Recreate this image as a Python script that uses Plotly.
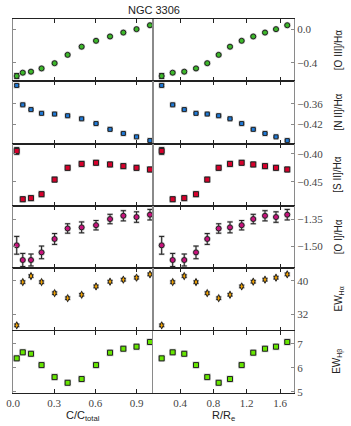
import plotly.graph_objects as go
from plotly.subplots import make_subplots

# ── Data ─────────────────────────────────────────────────────────────────────
c_frac = [0.027, 0.071, 0.131, 0.208, 0.303, 0.398, 0.50, 0.605, 0.707, 0.804, 0.90, 0.998]
r_re = [0.18, 0.312, 0.451, 0.592, 0.727, 0.864, 1.0, 1.14, 1.279, 1.42, 1.552, 1.687]

oiii = [-0.558, -0.518, -0.506, -0.467, -0.404, -0.304, -0.206, -0.135, -0.083, -0.036, 0.005, 0.052]
oiii_err = [0.03, 0.012, 0.012, 0.01, 0.01, 0.01, 0.01, 0.008, 0.008, 0.008, 0.008, 0.008]

nii = [-0.306, -0.363, -0.377, -0.388, -0.390, -0.395, -0.404, -0.418, -0.435, -0.447, -0.457, -0.468]
nii_err = [0.003, 0.002, 0.002, 0.002, 0.002, 0.002, 0.002, 0.002, 0.002, 0.002, 0.002, 0.002]

sii = [-0.395, -0.481, -0.479, -0.472, -0.446, -0.425, -0.418, -0.416, -0.419, -0.422, -0.425, -0.428]
sii_err = [0.006, 0.004, 0.004, 0.004, 0.004, 0.004, 0.004, 0.004, 0.004, 0.004, 0.004, 0.004]

oi = [-1.493, -1.574, -1.574, -1.532, -1.458, -1.400, -1.394, -1.382, -1.348, -1.330, -1.337, -1.324]
oi_err = [0.049, 0.036, 0.033, 0.035, 0.03, 0.026, 0.03, 0.026, 0.026, 0.028, 0.029, 0.029]

ew_ha = [29.46, 39.67, 41.09, 39.67, 37.06, 35.87, 36.68, 38.65, 39.76, 40.24, 40.71, 41.5]
ew_ha_err = [0.3] * 12

ew_hb = [6.39, 6.64, 6.58, 6.11, 5.61, 5.375, 5.53, 6.11, 6.625, 6.79, 6.875, 7.07]
ew_hb_err = [0.06] * 12

ROWS = [
    dict(y=oiii, err=oiii_err, color="#3cb82a", symbol="circle", size=5,
         rng=[-0.622, 0.127], ticks=[0.0, -0.4], fmt=".1f", label="[O III]/Hα"),
    dict(y=nii, err=nii_err, color="#1f7ad8", symbol="square", size=4,
         rng=[-0.477, -0.294], ticks=[-0.36, -0.42], fmt=".2f", label="[N II]/Hα"),
    dict(y=sii, err=sii_err, color="#d8002c", symbol="square", size=5,
         rng=[-0.493, -0.382], ticks=[-0.40, -0.45], fmt=".2f", label="[S II]/Hα"),
    dict(y=oi, err=oi_err, color="#c8127c", symbol="circle", size=5,
         rng=[-1.62, -1.276], ticks=[-1.35, -1.50], fmt=".2f", label="[O I]/Hα"),
    dict(y=ew_ha, err=ew_ha_err, color="#f0a000", symbol="diamond-tall", size=5,
         rng=[28.2, 42.92], ticks=[40, 32], fmt="d", label="EW<sub>Hα</sub>"),
    dict(y=ew_hb, err=ew_hb_err, color="#66e600", symbol="square", size=5,
         rng=[4.95, 7.54], ticks=[7, 6, 5], fmt="d", label="EW<sub>Hβ</sub>"),
]

W, H = 351, 426
ML, MR, MT, MB = 13, 57, 19, 33
PW, PH = W - ML - MR, H - MT - MB
XM = 140 / PW          # split between the two columns, in plot fraction
ROW_H = 1 / 6


def px(x):
    return (x - ML) / PW


def py(y):
    return 1 - (y - MT) / PH


TICK_FONT = dict(family="Liberation Serif", size=11, color="#444")
LABEL_FONT = dict(family="Liberation Sans", size=10, color="#222")
GRAY = "#8a8a8a"

fig = make_subplots(rows=6, cols=2, horizontal_spacing=0, vertical_spacing=0)

for i, row in enumerate(ROWS):
    r = i + 1
    for c, xs in ((1, c_frac), (2, r_re)):
        # light halo behind the error bars
        fig.add_trace(go.Scatter(
            x=xs, y=row["y"], mode="markers",
            marker=dict(symbol=row["symbol"], size=row["size"] + 2, color="#c8c8c8"),
            error_y=dict(type="data", array=row["err"], color="#c4c4c4",
                         thickness=2.2, width=3),
            showlegend=False, hoverinfo="skip",
        ), row=r, col=c)
        fig.add_trace(go.Scatter(
            x=xs, y=row["y"], mode="markers",
            marker=dict(symbol=row["symbol"], size=row["size"], color=row["color"],
                        line=dict(color="#222", width=1)),
            error_y=dict(type="data", array=row["err"], color="#222",
                         thickness=1, width=2.5),
            showlegend=False,
        ), row=r, col=c)

    y1 = 1 - i * ROW_H
    y0 = y1 - ROW_H
    for c in (1, 2):
        fig.update_yaxes(
            row=r, col=c, domain=[y0, y1], range=row["rng"],
            tickvals=row["ticks"], tickformat=row["fmt"],
            ticks="inside", ticklen=3, tickcolor=GRAY,
            showline=True, linecolor=GRAY, linewidth=1.2, mirror=True,
            showgrid=False, zeroline=False, tickfont=TICK_FONT,
            showticklabels=(c == 2), side="right" if c == 2 else "left",
            automargin=False,
        )
    fig.add_annotation(
        x=px(338), y=(y0 + y1) / 2, xref="paper", yref="paper",
        xanchor="center", yanchor="middle",
        text=row["label"], textangle=-90, showarrow=False, font=LABEL_FONT,
    )

for r in range(1, 7):
    fig.update_xaxes(
        row=r, col=1, domain=[0, XM], range=[0, 1.02],
        tickvals=[0.0, 0.3, 0.6, 0.9], tickformat=".1f",
    )
    fig.update_xaxes(
        row=r, col=2, domain=[XM, 1], range=[0.076, 1.768],
        tickvals=[0.4, 0.8, 1.2, 1.6], tickformat=".1f",
    )
    for c in (1, 2):
        fig.update_xaxes(
            row=r, col=c, ticks="inside", ticklen=4, tickcolor="#222",
            showline=True, linecolor="#222", linewidth=1, mirror="allticks",
            showgrid=False, zeroline=False, tickfont=TICK_FONT,
            showticklabels=(r == 6), automargin=False,
        )

AX_FONT = dict(family="Liberation Sans", size=11, color="#222")
fig.add_annotation(x=XM / 2, y=py(416), xref="paper", yref="paper",
                   xanchor="center", yanchor="middle",
                   text="C/C<sub>total</sub>", showarrow=False, font=AX_FONT)
fig.add_annotation(x=(XM + 1) / 2, y=py(416), xref="paper", yref="paper",
                   xanchor="center", yanchor="middle",
                   text="R/R<sub>e</sub>", showarrow=False, font=AX_FONT)
fig.add_annotation(x=0.5, y=py(10), xref="paper", yref="paper",
                   xanchor="center", yanchor="middle",
                   text="NGC 3306", showarrow=False, font=AX_FONT)

fig.update_layout(
    width=W, height=H, margin=dict(l=ML, r=MR, t=MT, b=MB),
    plot_bgcolor="white", paper_bgcolor="white",
)

# drop the page's default body margin so the figure sits at the window origin
fig.write_html("out.html", config={"displayModeBar": False},
               post_script="document.body.style.margin='0';")
